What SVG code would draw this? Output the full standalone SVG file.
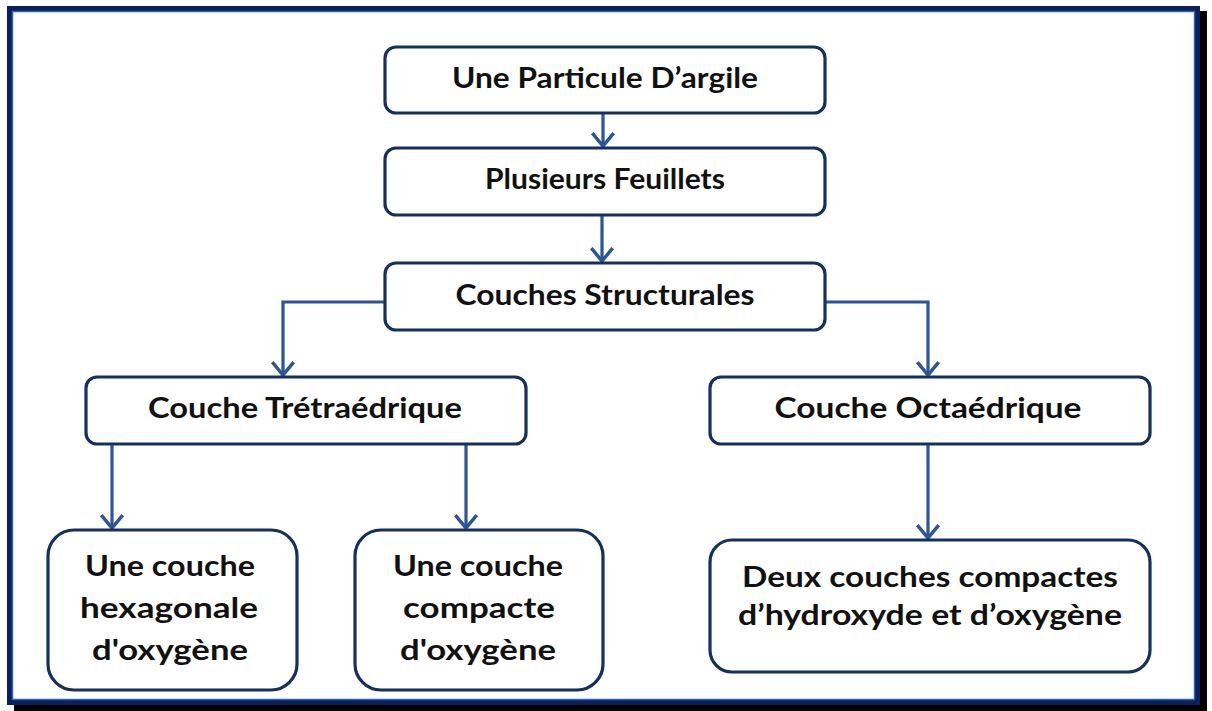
<svg xmlns="http://www.w3.org/2000/svg" width="1212" height="711" viewBox="0 0 1212 711">
<defs>
<style>
.box{fill:#ffffff;stroke:#14305f;stroke-width:3.2}
.lbl{font-family:Lato,"Noto Sans","Liberation Sans",sans-serif;font-weight:700;font-size:28px;fill:#111111;text-anchor:middle}
.con{fill:none;stroke:#2a5596;stroke-width:3.2}
</style>
<marker id="arr" markerUnits="userSpaceOnUse" markerWidth="30" markerHeight="30" refX="0" refY="0" viewBox="-16 -14 20 28" orient="auto" overflow="visible">
<path d="M-12,-10 L0,0 L-12,10" fill="none" stroke="#2a5596" stroke-width="3.2" stroke-linejoin="miter"/>
</marker>
</defs>
<rect x="0" y="0" width="1212" height="711" fill="#ffffff"/>
<rect x="14" y="11" width="1193" height="700" fill="#000000"/>
<rect x="9.5" y="8.5" width="1188" height="694" fill="#ffffff" stroke="#0b1f5c" stroke-width="5"/>
<rect x="12.5" y="11.5" width="1182" height="688" fill="none" stroke="#2466b8" stroke-width="1.5"/>

<g id="connectors">
<path class="con" d="M603,113 V146" marker-end="url(#arr)"/>
<path class="con" d="M602,215 V261" marker-end="url(#arr)"/>
<path class="con" d="M385,302 H283 V375" marker-end="url(#arr)"/>
<path class="con" d="M825,302 H928 V375" marker-end="url(#arr)"/>
<path class="con" d="M112,444 V528" marker-end="url(#arr)"/>
<path class="con" d="M466,444 V528" marker-end="url(#arr)"/>
<path class="con" d="M928,444 V538" marker-end="url(#arr)"/>
</g>

<g id="n1">
<rect class="box" x="385" y="47" width="440" height="66" rx="11"/>
<text class="lbl" x="605" y="88" textLength="306" lengthAdjust="spacingAndGlyphs">Une Particule D’argile</text>
</g>
<g id="n2">
<rect class="box" x="385" y="148" width="440" height="67" rx="11"/>
<text class="lbl" x="605" y="189" textLength="240" lengthAdjust="spacingAndGlyphs">Plusieurs Feuillets</text>
</g>
<g id="n3">
<rect class="box" x="385" y="263" width="440" height="67" rx="11"/>
<text class="lbl" x="605" y="305" textLength="299" lengthAdjust="spacingAndGlyphs">Couches Structurales</text>
</g>
<g id="n4">
<rect class="box" x="86" y="377" width="440" height="67" rx="11"/>
<text class="lbl" x="305" y="418" textLength="314" lengthAdjust="spacingAndGlyphs">Couche Trétraédrique</text>
</g>
<g id="n5">
<rect class="box" x="710" y="377" width="440" height="67" rx="11"/>
<text class="lbl" x="928" y="418" textLength="307" lengthAdjust="spacingAndGlyphs">Couche Octaédrique</text>
</g>
<g id="n6">
<rect class="box" x="48" y="530" width="249" height="160" rx="26"/>
<text class="lbl" x="170" y="576" textLength="170" lengthAdjust="spacingAndGlyphs">Une couche</text>
<text class="lbl" x="169" y="618" textLength="178" lengthAdjust="spacingAndGlyphs">hexagonale</text>
<text class="lbl" x="170" y="660" textLength="156" lengthAdjust="spacingAndGlyphs">d'oxygène</text>
</g>
<g id="n7">
<rect class="box" x="355" y="530" width="248" height="160" rx="26"/>
<text class="lbl" x="478" y="576" textLength="170" lengthAdjust="spacingAndGlyphs">Une couche</text>
<text class="lbl" x="479" y="618" textLength="152" lengthAdjust="spacingAndGlyphs">compacte</text>
<text class="lbl" x="478" y="660" textLength="156" lengthAdjust="spacingAndGlyphs">d'oxygène</text>
</g>
<g id="n8">
<rect class="box" x="710" y="540" width="440" height="132" rx="22"/>
<text class="lbl" x="930" y="587" textLength="376" lengthAdjust="spacingAndGlyphs">Deux couches compactes</text>
<text class="lbl" x="930" y="625" textLength="384" lengthAdjust="spacingAndGlyphs">d’hydroxyde et d’oxygène</text>
</g>
</svg>
